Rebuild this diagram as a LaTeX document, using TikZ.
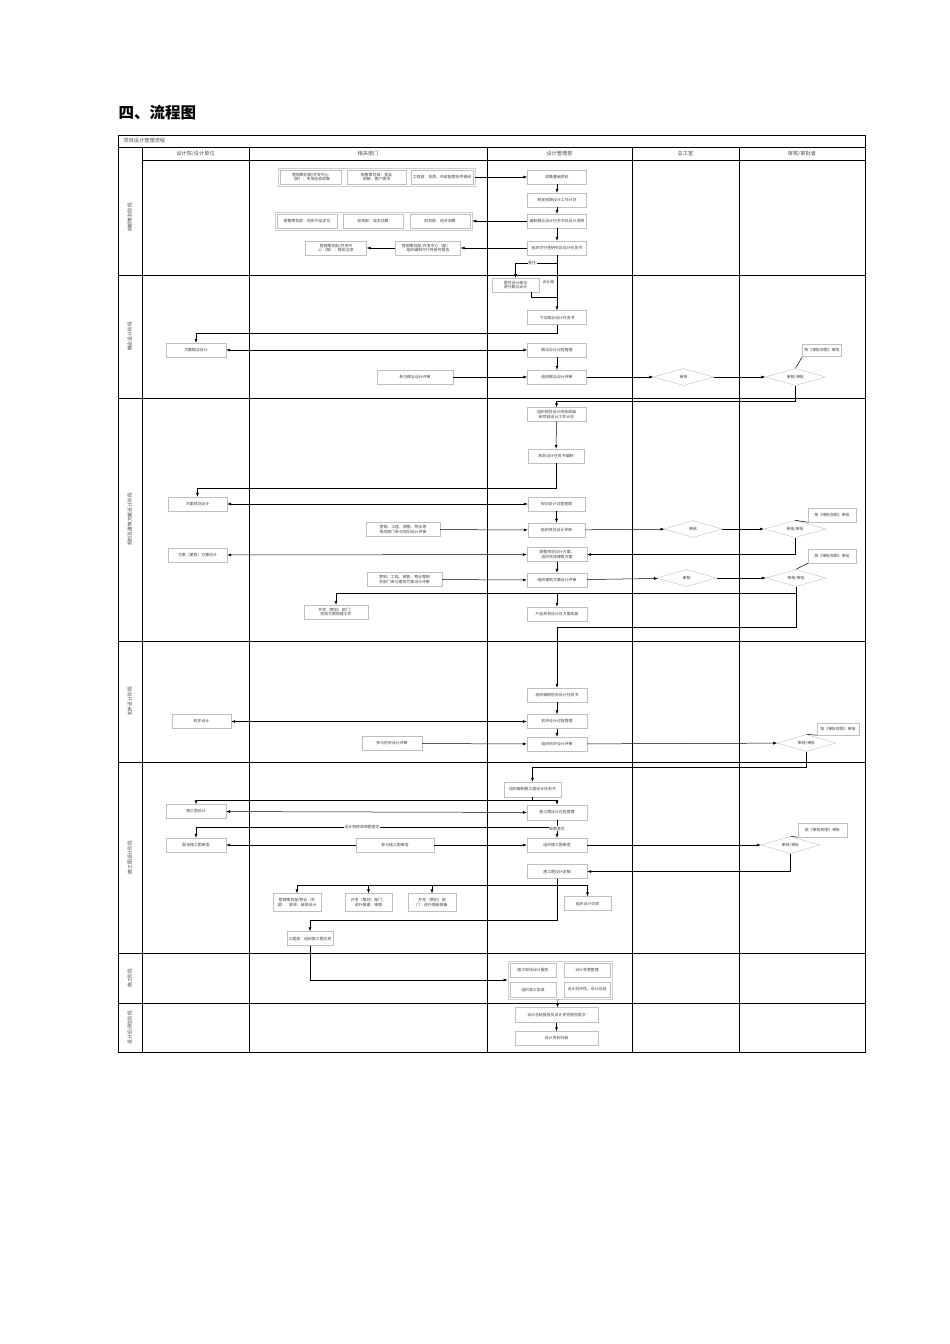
\documentclass[tikz,border=0pt]{standalone}
\usepackage{fontspec}
\setmainfont{Noto Sans CJK SC}
\XeTeXlinebreaklocale "zh"
\XeTeXlinebreakskip = 0pt
\usetikzlibrary{positioning, shapes.geometric, arrows.meta, fit}

\begin{document}
\begin{tikzpicture}[x=1pt, y=-1pt, >={Latex[length=4pt,width=3pt]},
  box/.style={draw=gray!50, line width=0.4pt, fill=white, align=center, inner sep=1pt,
    minimum height=14pt, text width=#1, text=black!75, font=\fontsize{3.9}{4.6}\selectfont},
  box/.default=57pt,
  diam/.style={diamond, draw=gray!50, line width=0.4pt, inner sep=0pt, aspect=3.6,
    minimum width=#1, minimum height=17pt, text=black!75, font=\fontsize{3.9}{4.6}\selectfont},
  diam/.default=60pt,
  grp/.style={draw=gray!40, line width=0.4pt, inner sep=2pt},
  lane/.style={rotate=90, text=black!75, text height=4pt, text depth=1pt, font=\fontsize{4.8}{5}\selectfont},
  head/.style={text=black!70, text height=4.2pt, text depth=1pt, font=\fontsize{5.2}{6}\selectfont},
  tag/.style={fill=white, inner sep=0.5pt, text=black!75, font=\fontsize{3.9}{4.6}\selectfont},
  frame/.style={line width=0.65pt},
  every path/.style={line width=0.5pt}]
\useasboundingbox (0,0) rectangle (950,1344);

\node[anchor=west, font=\fontsize{15.5}{18}\selectfont\bfseries] (title) at (115,113) {四、流程图};

% swimlane frame
\draw[frame] (118,135) rectangle (865,1052);
\draw[frame] (118,147) -- (865,147);
\draw[frame] (142,160) -- (865,160);
\foreach \x in {142,249,487,632,739}
  \draw[frame] (\x,147) -- (\x,1052);
\foreach \y in {275,398,641,762,953,1003}
  \draw[frame] (118,\y) -- (865,\y);
\node[head, anchor=west] (flow) at (120,141) {项目设计管理流程};
\node[head] (h1) at (195.5,154) {设计院/设计单位};
\node[head] (h2) at (368,154) {相关部门};
\node[head] (h3) at (559.5,154) {设计管理部};
\node[head] (h4) at (685.5,154) {总工室};
\node[head] (h5) at (802,154) {审核/审批者};
\node[lane] (p1) at (130,217.5) {前期策划阶段};
\node[lane] (p2) at (130,336.5) {概念设计阶段};
\node[lane] (p3) at (130,519.5) {规划及建筑方案设计阶段};
\node[lane] (p4) at (130,701.5) {初步设计阶段};
\node[lane] (p5) at (130,857.5) {施工图设计阶段};
\node[lane] (p6) at (130,978) {施工阶段};
\node[lane] (p7) at (130,1027.5) {设计后评估阶段};

% 前期策划
\node[box=59pt] (a1) at (310.5,177) {营销策划部/开发中心（部）：市场信息收集};
\node[box=57pt] (b1) at (376.5,177) {销售策划部：竞品调研、客户需求};
\node[box=60pt] (c1) at (442,177) {工程部：地质、市政配套条件调研};
\node[grp, fit=(a1)(b1)(c1)] (grpA) {};
\node[box] (collect) at (557,177) {收集基础资料};
\node[box] (plan0) at (557,200) {制定前期设计工作计划};
\node[box] (task0) at (557,221) {编制概念设计任务书及设计说明};
\node[box=58pt] (a2) at (307,221) {销售策划部：初步产品定位};
\node[box=58pt] (b2) at (373,221) {投资部：成本估算};
\node[box=58pt] (c2) at (440,221) {财务部：经济测算};
\node[grp, fit=(a2)(b2)(c2)] (grpB) {};
\node[box] (feas) at (557,248) {组织可行性研究及设计任务书};
\node[box=63pt] (rep) at (428,248) {营销策划部/开发中心（部）：组织编制可行性研究报告};
\node[box=59pt] (appr) at (336,248) {营销策划部/开发中心（部）：报批立项};
\draw[->] (grpA) -- (collect);
\draw[->] (collect) -- (plan0);
\draw[->] (plan0) -- (task0);
\draw[->] (task0) -- (feas);
\draw[->] (task0) -- (grpB);
\draw[->] (feas) -- (rep);
\draw[->] (rep) -- (appr);

% 概念设计
\coordinate (k1) at (557,263);
\coordinate (k2) at (557,297);
\node[box=45pt] (entrust) at (515.5,285) {委托设计单位进行概念设计};
\node[tag, anchor=east] (self) at (555,282) {设计部};
\node[box] (ctask) at (557,317.5) {下达概念设计任务书};
\node[box=58pt] (cdes) at (196,350) {方案概念设计};
\node[box] (cmgr) at (557,350) {概念设计过程管理};
\node[box] (crev) at (557,377) {组织概念设计评审};
\node[box=74pt] (cpart) at (415,377) {参与概念设计评审};
\node[diam] (cd1) at (683.5,377) {审核};
\node[diam] (cd2) at (795.5,377) {审核/审批};
\node[box=37pt, minimum height=12pt] (cnote) at (822,350.5) {按《审批权限》审批};
\draw[->] (feas) -- (ctask);
\draw[->] (k1) -| node[tag, pos=0.3] {委托} (entrust);
\draw ([xshift=16pt]entrust.south) |- (k2);
\draw[->] (ctask.south) -- (557,333) -| (cdes.north);
\draw[<->] (cdes) -- (cmgr);
\draw[->] (cmgr) -- (crev);
\draw[->] (cpart) -- (crev);
\draw[->] (crev) -- (cd1);
\draw[->] (cd1) -- (cd2);
\draw (cd2.north) -- (cnote.south west);

% 规划及建筑方案
\node[box] (ptask) at (556.5,414.5) {组织规划设计招标或编制项目设计工作计划};
\node[box=54pt] (ptask2) at (556,456) {规划设计任务书编制};
\node[box] (pdes) at (197.5,504) {方案规划设计};
\node[box=55pt] (pmgr) at (556.5,504) {规划设计过程管理};
\node[box=55pt] (prev) at (556.5,530) {组织规划设计评审};
\node[box=72pt] (ppart) at (403,529.5) {营销、工程、销售、物业等相关部门参与规划设计评审};
\node[diam=58pt] (pd1) at (693,529) {审核};
\node[diam=62pt] (pd2) at (795,529) {审核/审批};
\node[box=46pt] (pnote) at (832,515) {按《审批权限》审批};
\node[box=58pt] (adj) at (557,554.5) {调整规划设计方案，组织完成建筑方案};
\node[box] (bdes) at (197.5,555) {方案（建筑）方案设计};
\node[box=58pt] (brev) at (557,580) {组织建筑方案设计评审};
\node[box=73pt] (bpart) at (404.5,579.5) {营销、工程、销售、物业等相关部门参与建筑方案设计评审};
\node[diam] (bd1) at (686.5,578) {审核};
\node[diam] (bd2) at (796,578) {审核/审批};
\node[box=46pt] (bnote) at (832,556) {按《审批权限》审批};
\node[box=62pt] (bapp) at (336,612) {开发（策划）部门：完成方案报建工作};
\node[box=58pt] (prod) at (557,614) {产品规划设计及方案批复};
\coordinate (k4) at (557,593);
\draw[->] (cd2.south) -- (795.5,401) -| (ptask.north);
\draw[->] (ptask) -- (ptask2);
\draw[->] (ptask2.south) -- (556,488) -| (pdes.north);
\draw[<->] (pdes) -- (pmgr);
\draw[->] (pmgr) -- (prev);
\draw[->] (ppart) -- (prev);
\draw[->] (prev) -- (pd1);
\draw[->] (pd1) -- (pd2);
\draw (pd2.north) -- (pnote.south west);
\draw[->] (pd2.south) |- (adj.east);
\draw[<->] (bdes) -- (adj);
\draw[->] (adj) -- (brev);
\draw[->] (bpart) -- (brev);
\draw[->] (brev) -- (bd1);
\draw[->] (bd1) -- (bd2);
\draw (bd2.north) -- (bnote.south west);
\draw[->] (bd2.south) -- (796,593) -| (bapp.north);
\draw[->] (k4) -- (prod);

% 初步设计
\node[box=58pt] (ftask) at (557,695) {组织编制初步设计任务书};
\node[box] (fdes) at (201.5,721.5) {初步设计};
\node[box=58pt] (fmgr) at (557,721.5) {初步设计过程管理};
\node[box=58pt] (frev) at (557,744) {组织初步设计评审};
\node[box=58pt] (fpart) at (392,743.5) {参与初步设计评审};
\node[diam=59pt] (fd) at (806.5,743) {审核/审批};
\node[box=40pt, minimum height=12pt] (fnote) at (838,729) {按《审批权限》审批};
\draw[->] (796,593) -- (796,627) -| (ftask.north);
\draw[->] (ftask) -- (fmgr);
\draw[<->] (fdes) -- (fmgr);
\draw[->] (fmgr) -- (frev);
\draw[->] (fpart) -- (frev);
\draw[->] (frev) -- (fd);
\draw (fd.north) -- (fnote.south west);

% 施工图设计
\node[box=55pt, minimum height=15pt] (stask) at (532.5,789.5) {组织编制施工图设计任务书};
\node[box=58pt] (sdes) at (196,811.5) {施工图设计};
\node[box=58pt, minimum height=15pt] (smgr) at (557,812.5) {施工图设计过程管理};
\node[box=58pt] (scheck) at (196,845) {配合施工图审查};
\node[box=76pt] (spart) at (395,845) {参与施工图审查};
\node[box=58pt] (srev) at (557,845) {组织施工图审查};
\node[diam=59pt] (sd) at (790.5,845) {审核/审批};
\node[box=47pt] (snote) at (822.5,830) {按《审批权限》审批};
\node[box=58pt] (sfinal) at (557,871.5) {施工图设计定稿};
\node[box=46pt, minimum height=18pt] (s1) at (297,902.5) {营销策划部/物业（外部）：景观、装修设计};
\node[box=45pt, minimum height=18pt] (s2) at (368.5,902.5) {开发（策划）部门：进行报建、审图};
\node[box=46pt, minimum height=18pt] (s3) at (432,902.5) {开发（策划）部门：进行图纸报备};
\node[box=45pt] (s4) at (587.5,903.5) {组织设计交底};
\node[box=44pt] (s5) at (310,938.5) {工程部：组织施工图交底};
\coordinate (k5) at (532.5,800);
\coordinate (k6) at (557,827);
\coordinate (k7) at (557,885);
\draw[->] (fd.south) -- (806.5,767) -| (stask.north);
\draw (stask) -- (k5);
\draw[->] (k5) -| (sdes.north);
\draw[->] (k5) -| (smgr.north);
\draw[<->] (sdes) -- (smgr);
\draw (smgr) -- (k6);
\draw[->] (k6) -| node[tag, pos=0.27] {设计院修改审图意见} (scheck.north);
\draw[->] (k6) -- node[tag, pos=0.15] {审图意见} (srev);
\draw[->] (spart) -- (scheck);
\draw[->] (spart) -- (srev);
\draw[->] (srev) -- (sd);
\draw (sd.north) -- (snote.south west);
\draw[->] (sd.south) |- (sfinal.east);
\draw (sfinal) -- (k7);
\draw[->] (k7) -| (s1.north);
\draw[->] (k7) -| (s2.north);
\draw[->] (k7) -| (s3.north);
\draw[->] (k7) -| (s4.north);
\draw[->] (k7) -- (557,920) -| (s5.north);

% 施工及后评估
\node[box=44pt] (e1) at (533,970) {施工现场设计服务};
\node[box=44pt] (e2) at (587,970) {设计变更管理};
\node[box=44pt, minimum height=15pt] (e3) at (533,989.5) {组织竣工验收};
\node[box=44pt, minimum height=15pt] (e4) at (587,989.5) {设计后评估、设计总结};
\node[grp, fit=(e1)(e2)(e3)(e4)] (grpC) {};
\node[box=81pt, minimum height=15pt] (rep7) at (556.5,1015) {设计总结报告及设计评估报告提交};
\node[box=81pt] (arch) at (556.5,1038.5) {设计资料归档};
\draw[->] (s5.south) |- (grpC.west);
\draw[->] (grpC) -- (rep7);
\draw[->] (rep7) -- (arch);
\end{tikzpicture}
\end{document}
